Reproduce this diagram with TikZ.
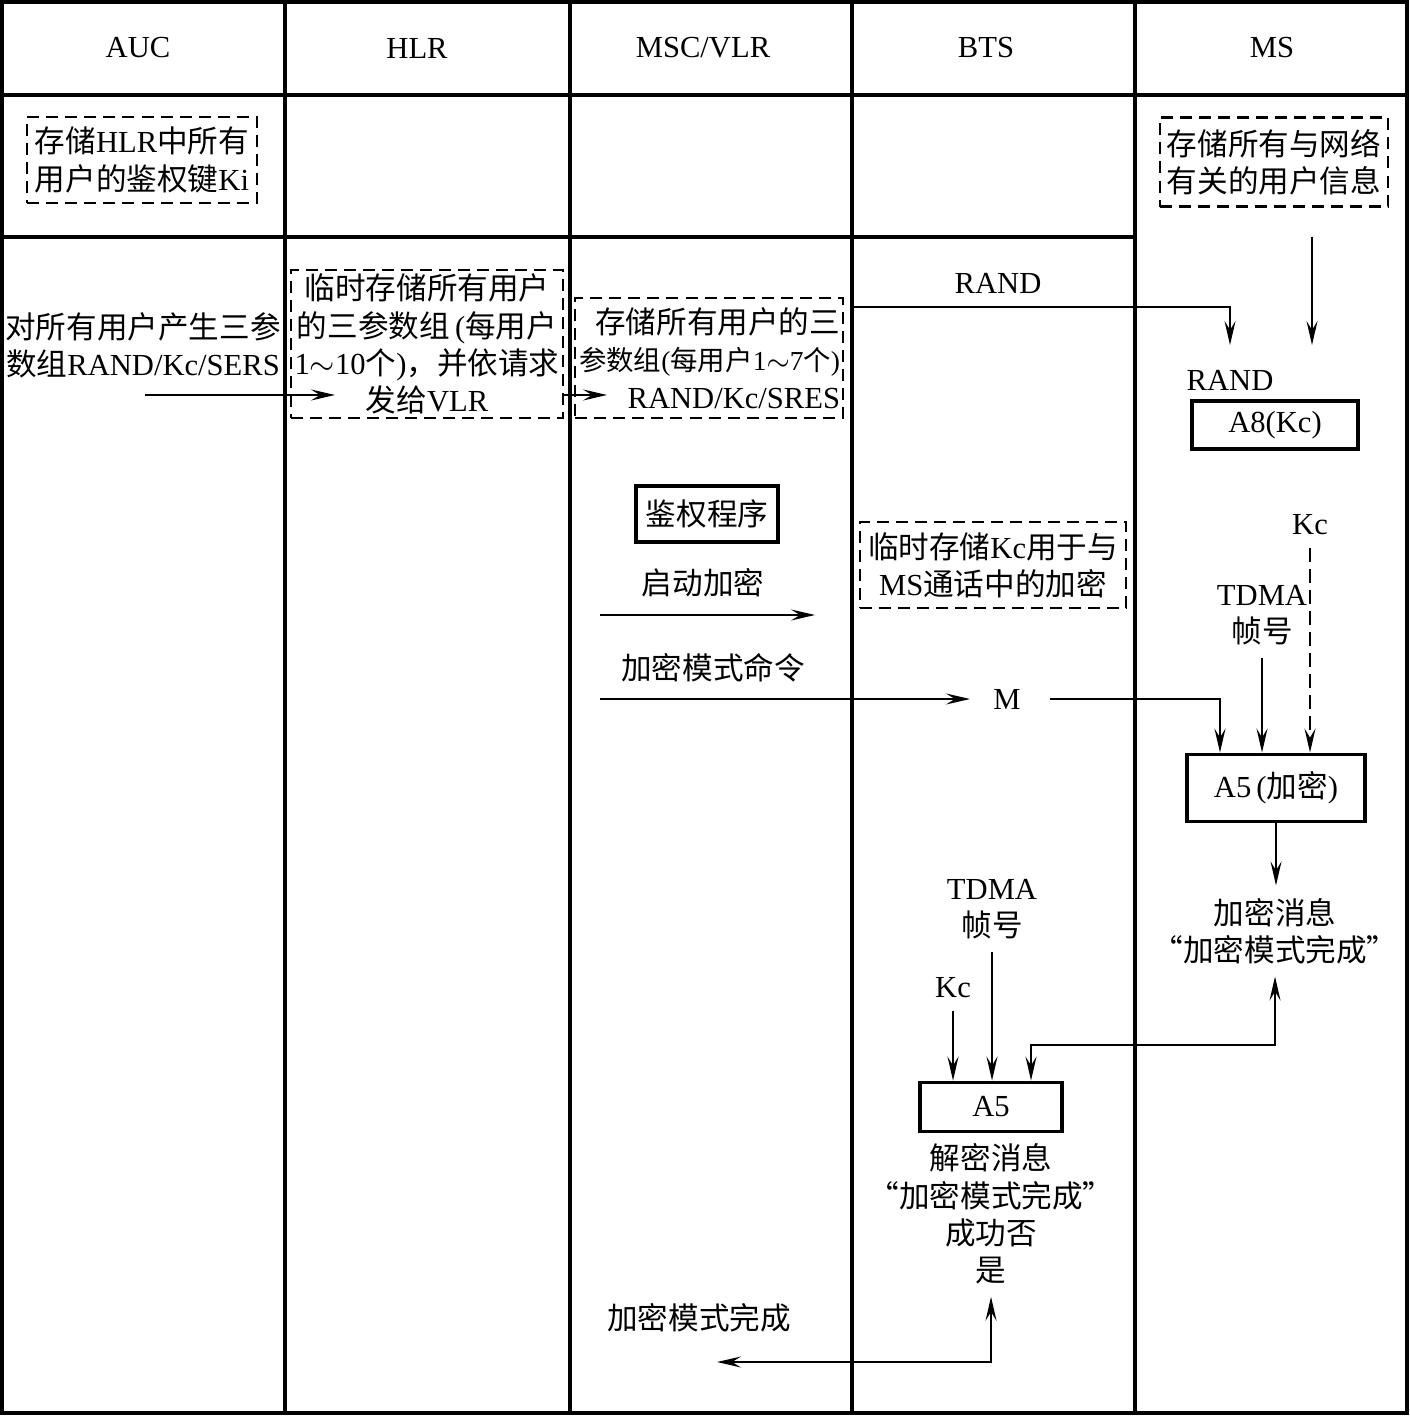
\documentclass[tikz,border=0pt]{standalone}
\usepackage{fontspec}
\setmainfont{Liberation Serif}
\newfontfamily\cjk{Noto Sans CJK SC}
\usetikzlibrary{arrows.meta}
\newcommand\zh[1]{{\cjk #1}}
\tikzset{
  lane/.style={line width=0.9pt},
  dashbox/.style={draw, line width=0.6pt, dash pattern=on 1.2mm off 0.7mm, inner sep=1pt},
  solidbox/.style={draw, line width=1.1pt, inner sep=1pt},
}
\begin{document}
\begin{tikzpicture}[x=0.01cm, y=-0.01cm, font=\fontsize{8.7}{10.6}\selectfont,
  every node/.append style={align=center},
  >={Stealth[length=2.4mm,width=1.1mm,inset=0.9mm]}, line width=0.5pt]
  \useasboundingbox (0,0) rectangle (1409,1416);
  \fill[white] (0,0) rectangle (1409,1416);
  % grelha: a linha de 237 pára na coluna MS, que fica aberta até ao fundo
  \draw[lane] (2,2) rectangle (1407,1413);
  \draw[lane] (2,95) -- (1407,95);
  \draw[lane, line width=1.3pt] (2,237) -- (1135,237);
  \foreach \x in {285,570,852,1135} \draw[lane] (\x,2) -- (\x,1413);
  \foreach \x/\name/\txt in {138/hdauc/AUC, 417/hdhlr/HLR, 703/hdmsc/{MSC/VLR}, 986/hdbts/BTS, 1272/hdms/MS}
    \node (\name) at (\x,48) {\txt};

  \node[dashbox, minimum width=2.29cm, minimum height=0.86cm] (auckey) at (142,160) {\zh{存储}HLR\zh{中所有}\\\zh{用户的鉴权键}Ki};
  \node[dashbox, minimum width=2.28cm, minimum height=0.89cm] (msinfo) at (1274,162) {\zh{存储所有与网络}\\\zh{有关的用户信息}};

  \node (aucgen) at (143,345) {\zh{对所有用户产生三参}\\\zh{数组}RAND/Kc/SERS};
  \node[dashbox, minimum width=2.70cm, minimum height=1.48cm] (hlrstore) at (427,344)
    {\zh{临时存储所有用户}\\\zh{的三参数组}\,(\zh{每用户}\\1${\sim}$10\zh{个})\zh{，并依请求}\\\zh{发给}VLR};
  % a segunda linha não cabe à largura normal: letra mais pequena só nela
  \node[dashbox, text width=2.62cm, align=right, inner xsep=0.025cm, minimum height=1.20cm] (vlrstore) at (709,358)
    {\zh{存储所有用户的三}\\{\fontsize{7.8}{10.6}\selectfont\zh{参数组}(\zh{每用户}1${\sim}$7\zh{个})}\\RAND/Kc/SRES};
  \coordinate (gen0) at (145,395);
  \coordinate (gen1) at (335,395);
  \coordinate (vlrin) at (607,395);
  \draw[->] (gen0) -- (gen1);
  \draw[->] (hlrstore.east |- vlrin) -- (vlrin);

  \node (randbts) at (998,283) {RAND};
  \node (randms) at (1230,380) {RAND};
  \node[solidbox, minimum width=1.66cm, minimum height=0.48cm] (a8) at (1275,425) {A8(Kc)};
  \coordinate (randout) at (852,307);
  \coordinate (randin) at (1230,345);
  \coordinate (msout) at (1312,237);
  \coordinate (msin) at (1312,345);
  \draw[->] (randout) -| (randin);
  \draw[->] (msout) -- (msin);

  \node[solidbox, minimum width=1.42cm, minimum height=0.56cm] (auth) at (707,514) {\zh{鉴权程序}};
  \node (startenc) at (703,583) {\zh{启动加密}};
  \coordinate (se0) at (600,615);
  \coordinate (se1) at (815,615);
  \draw[->] (se0) -- (se1);
  \node[dashbox, minimum width=2.66cm, minimum height=0.86cm] (btskc) at (993,565) {\zh{临时存储}Kc\zh{用于与}\\MS\zh{通话中的加密}};

  \node (modecmd) at (713,668) {\zh{加密模式命令}};
  \node (m) at (1007,699) {M};
  \coordinate (mc0) at (600,699);
  \coordinate (min) at (970,699);
  \coordinate (mout) at (1050,699);
  \draw[->] (mc0) -- (min);

  \node (kcms) at (1310,525) {Kc};
  \node (tdmams) at (1262,615) {TDMA\\\zh{帧号}};
  \node[solidbox, minimum width=1.78cm, minimum height=0.67cm] (a5enc) at (1276,788) {A5\,(\zh{加密})};
  \draw[->] (mout) -| ([xshift=-0.56cm]a5enc.north);
  \draw[->] (tdmams.south) -- (tdmams.south |- a5enc.north);
  \draw[->, dash pattern=on 1.4mm off 0.7mm] (kcms.south) -- (kcms.south |- a5enc.north);
  \node (encmsg) at (1275,931) {\zh{加密消息}\\\zh{“加密模式完成”}};
  \draw[->] (a5enc.south) -- (a5enc.south |- encmsg.north);

  \node (tdmabts) at (992,909) {TDMA\\\zh{帧号}};
  \node (kcbts) at (953,988) {Kc};
  \node[solidbox, minimum width=1.42cm, minimum height=0.49cm] (a5dec) at (991,1107) {A5};
  \coordinate (retn) at (1031,1045);
  \draw[<->] (encmsg.south) |- (retn) -- (retn |- a5dec.north);
  \draw[->] (tdmabts.south) -- (tdmabts.south |- a5dec.north);
  \draw[->] (kcbts.south) -- (kcbts.south |- a5dec.north);

  \node (decmsg) at (991,1214) {\zh{解密消息}\\\zh{“加密模式完成”}\\\zh{成功否}\\\zh{是}};
  \node (done) at (699,1318) {\zh{加密模式完成}};
  \coordinate (donein) at (717,1362);
  \draw[<->] (decmsg.south) |- (donein);
\end{tikzpicture}
\end{document}
